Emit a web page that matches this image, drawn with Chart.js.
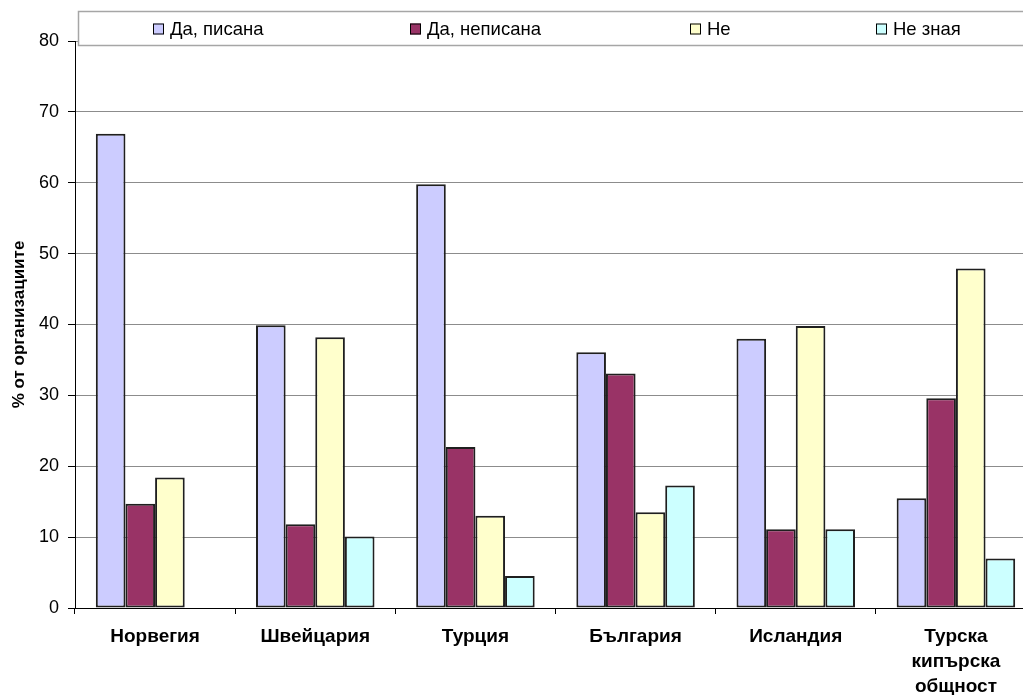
<!DOCTYPE html>
<html lang="bg">
<head>
<meta charset="utf-8">
<title>Организации с политика</title>
<script src="https://cdn.jsdelivr.net/npm/chart.js@4.4.1/dist/chart.umd.min.js"></script>
<style>
  html, body { margin: 0; padding: 0; background: #ffffff; overflow: hidden; }
  #wrap { position: relative; width: 1040px; height: 695px; }
</style>
</head>
<body>
<div id="wrap"><canvas id="chart"></canvas></div>
<script>
// Countries along the horizontal axis (multi-line where the name is long)
const categories = [
  'Норвегия',
  'Швейцария',
  'Турция',
  'България',
  'Исландия',
  ['Турска', 'кипърска', 'общност']
];

// Answer shares, % of organisations
const writtenYes   = [66.9, 39.9, 59.8, 36.1, 38.0, 15.5];
const unwrittenYes = [14.7, 11.8, 22.7, 33.1, 11.1, 29.6];
const noAnswer     = [18.4, 38.2, 13.0, 13.5, 39.8, 47.9];
const dontKnow     = [null, 10.1,  4.5, 17.3, 11.1,  7.0];

const seriesLabels = ['Да, писана', 'Да, неписана', 'Не', 'Не зная'];
const seriesColors = ['#CCCCFF', '#993366', '#FFFFCC', '#CCFFFF'];

const yTicks = [0, 10, 20, 30, 40, 50, 60, 70, 80];
const yTitle = '% от организациите';

const FONT = '"Liberation Sans", Arial, sans-serif';

// Boxed legend strip across the top of the plot
const boxedLegend = {
  id: 'boxedLegend',
  afterDraw(chart) {
    const ctx = chart.ctx;
    const top = 11.5, bottom = 45.5, left = 78.5, right = 1060;
    ctx.save();
    ctx.fillStyle = '#ffffff';
    ctx.fillRect(left, top, right - left, bottom - top);
    ctx.strokeStyle = '#a6a6a6';
    ctx.lineWidth = 1.5;
    ctx.strokeRect(left, top, right - left, bottom - top);
    const itemX = [153, 410, 690, 876];
    ctx.font = '18.5px ' + FONT;
    ctx.textBaseline = 'middle';
    ctx.textAlign = 'left';
    chart.data.datasets.forEach((ds, i) => {
      const x = itemX[i];
      const cy = 29;
      ctx.fillStyle = ds.backgroundColor;
      ctx.fillRect(x, cy - 5.5, 11, 11);
      ctx.strokeStyle = '#000000';
      ctx.lineWidth = 1;
      ctx.strokeRect(x + 0.5, cy - 5.5 + 0.5, 10, 10);
      ctx.fillStyle = '#000000';
      ctx.fillText(ds.label, x + 17, cy + 1);
    });
    ctx.restore();
  }
};

const seriesData = [writtenYes, unwrittenYes, noAnswer, dontKnow];

new Chart(document.getElementById('chart'), {
  type: 'bar',
  data: {
    labels: categories,
    datasets: seriesLabels.map((label, i) => ({
      label,
      data: seriesData[i],
      backgroundColor: seriesColors[i],
      borderColor: '#1f1f1f',
      borderWidth: 2,
      borderSkipped: false,
      categoryPercentage: 0.74,
      barPercentage: 1.0
    }))
  },
  options: {
    responsive: true,
    maintainAspectRatio: false,
    animation: false,
    devicePixelRatio: 1,
    layout: { padding: { top: 41, right: 4, bottom: 0, left: 0 } },
    plugins: {
      legend: { display: false },
      tooltip: { enabled: false }
    },
    scales: {
      x: {
        offset: true,
        grid: {
          offset: true,
          drawOnChartArea: false,
          drawTicks: true,
          tickLength: 6,
          tickColor: '#000000'
        },
        border: { color: '#000000', width: 1 },
        ticks: {
          color: '#000000',
          font: { family: FONT, size: 19, weight: 'bold', lineHeight: 1.29 },
          padding: 11,
          maxRotation: 0,
          autoSkip: false
        },
        afterFit(scale) { scale.height = 87; }
      },
      y: {
        min: 0,
        max: 80,
        afterBuildTicks(scale) { scale.ticks = yTicks.map(v => ({ value: v })); },
        grid: {
          color: '#8c8c8c',
          lineWidth: 1,
          drawTicks: true,
          tickLength: 7,
          tickColor: '#000000'
        },
        border: { color: '#000000', width: 1 },
        ticks: {
          color: '#000000',
          font: { family: FONT, size: 18 },
          padding: 9
        },
        title: {
          display: true,
          text: yTitle,
          color: '#000000',
          font: { family: FONT, size: 17, weight: 'bold' },
          padding: { top: 9, bottom: 0 }
        },
        afterFit(scale) { scale.width = 75; }
      }
    }
  },
  plugins: [boxedLegend]
});
</script>
</body>
</html>
